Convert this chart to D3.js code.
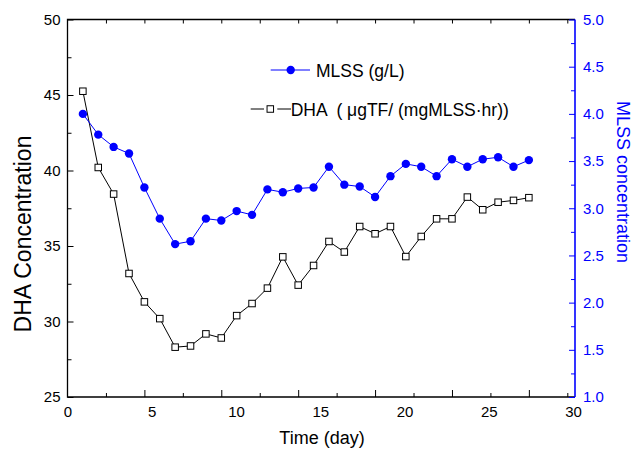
<!DOCTYPE html>
<html>
<head>
<meta charset="utf-8">
<script src="https://cdn.jsdelivr.net/npm/d3@7"></script>
<style>
  html, body { margin: 0; padding: 0; background: #fff; }
  svg { display: block; font-family: "Liberation Sans", Arial, sans-serif; }
  text { white-space: pre; }
</style>
</head>
<body>
<svg id="chart" width="634" height="450"></svg>
<script>
// ---- data ----
const days = [1,2,3,4,5,6,7,8,9,10,11,12,13,14,15,16,17,18,19,20,21,22,23,24,25,26,27,28,29,30];
const dhaValues = [45.25,40.2,38.44,33.18,31.3,30.19,28.3,28.38,29.18,28.91,30.39,31.19,32.21,34.28,32.41,33.71,35.3,34.6,36.29,35.81,36.29,34.3,35.63,36.8,36.8,38.24,37.4,37.9,38.02,38.2];
const mlssValues = [4.0,3.78,3.65,3.58,3.22,2.89,2.62,2.65,2.89,2.87,2.97,2.93,3.2,3.17,3.21,3.22,3.44,3.25,3.23,3.12,3.34,3.47,3.44,3.34,3.52,3.44,3.52,3.54,3.44,3.51];
const xTickLabels = [0,5,10,15,20,25,30];
const leftTicks = [25,30,35,40,45,50];
const leftMinor = [27.5,32.5,37.5,42.5,47.5];
const rightTicks = [1.0,1.5,2.0,2.5,3.0,3.5,4.0,4.5,5.0];
const rightMinor = [1.25,1.75,2.25,2.75,3.25,3.75,4.25,4.75];
const xMajorTicks = [5,10,15,20,25,30];
const xMinorTicks = [2.5,7.5,12.5,17.5,22.5,27.5,32.5];
const xTopTicks = [2.5,5,7.5,10,12.5,15,17.5,20,22.5,25,27.5,30,32.5];

const legendMLSS = "MLSS (g/L)";
const legendDHA = "DHA  ( \u03bcgTF/ (mgMLSS\u00b7hr))";

// ---- layout ----
const L = 67.5, R = 575, T = 19.5, B = 397;
const BLUE = "#0000ff";

const svg = d3.select("#chart");

const x = d3.scaleLinear().domain([0, 33]).range([L, R]);          // data / tick scale
const xLab = d3.scaleLinear().domain([0, 30]).range([L, 573]);     // label scale
const yL = d3.scaleLinear().domain([25, 50]).range([B, T]);
const yR = d3.scaleLinear().domain([1, 5]).range([B, T]);

function clean(g) { g.select(".domain").remove(); }

// bottom ticks (inward)
svg.append("g").attr("transform", `translate(0,${B})`)
  .call(d3.axisBottom(x).tickValues(xMajorTicks).tickSize(-7).tickFormat(""))
  .call(clean).selectAll("line").attr("stroke", "#000");
svg.append("g").attr("transform", `translate(0,${B})`)
  .call(d3.axisBottom(x).tickValues(xMinorTicks).tickSize(-4).tickFormat(""))
  .call(clean).selectAll("line").attr("stroke", "#000");
// bottom labels
const bl = svg.append("g").attr("transform", `translate(0,${B})`)
  .call(d3.axisBottom(xLab).tickValues(xTickLabels).tickSize(0).tickPadding(9.5).tickFormat(d3.format("d")))
  .call(clean);
bl.selectAll("text").attr("font-size", 15).attr("fill", "#000").attr("font-family", "Liberation Sans, Arial, sans-serif");

// top ticks
svg.append("g").attr("transform", `translate(0,${T})`)
  .call(d3.axisTop(x).tickValues(xTopTicks).tickSize(-4).tickFormat(""))
  .call(clean).selectAll("line").attr("stroke", "#000");

// left axis
const la = svg.append("g").attr("transform", `translate(${L},0)`)
  .call(d3.axisLeft(yL).tickValues(leftTicks).tickSize(-6).tickPadding(7).tickFormat(d3.format("d")))
  .call(clean);
la.selectAll("line").attr("stroke", "#000");
la.selectAll("text").attr("font-size", 15).attr("fill", "#000").attr("font-family", "Liberation Sans, Arial, sans-serif");
svg.append("g").attr("transform", `translate(${L},0)`)
  .call(d3.axisLeft(yL).tickValues(leftMinor).tickSize(-4).tickFormat(""))
  .call(clean).selectAll("line").attr("stroke", "#000");

// frame (black)
svg.append("path")
  .attr("d", `M${R},${T}H${L}V${B}H${R}`)
  .attr("fill", "none").attr("stroke", "#000").attr("stroke-width", 1.3);

// right axis (blue)
const ra = svg.append("g").attr("transform", `translate(${R},0)`)
  .call(d3.axisRight(yR).tickValues(rightTicks).tickSize(-6).tickPadding(8).tickFormat(d3.format(".1f")))
  .call(clean);
ra.selectAll("line").attr("stroke", BLUE);
ra.selectAll("text").attr("font-size", 15).attr("fill", BLUE).attr("font-family", "Liberation Sans, Arial, sans-serif");
svg.append("g").attr("transform", `translate(${R},0)`)
  .call(d3.axisRight(yR).tickValues(rightMinor).tickSize(-4).tickFormat(""))
  .call(clean).selectAll("line").attr("stroke", BLUE);
svg.append("line").attr("x1", R).attr("x2", R).attr("y1", T).attr("y2", B)
  .attr("stroke", BLUE).attr("stroke-width", 1.6);

// axis titles
svg.append("text").attr("x", 322).attr("y", 444).attr("text-anchor", "middle")
  .attr("font-size", 18).attr("fill", "#000").text("Time (day)");
svg.append("text").attr("transform", "translate(31,234) rotate(-90)").attr("text-anchor", "middle")
  .attr("font-size", 23).attr("fill", "#000").text("DHA Concentration");
svg.append("text").attr("transform", "translate(617,182) rotate(90)").attr("text-anchor", "middle")
  .attr("font-size", 18).attr("fill", BLUE).text("MLSS concentration");

// DHA series
const dha = days.map((d, i) => ({ d, v: dhaValues[i] }));
const mlss = days.map((d, i) => ({ d, v: mlssValues[i] }));

svg.append("path").datum(dha)
  .attr("d", d3.line().x(p => x(p.d)).y(p => yL(p.v)))
  .attr("fill", "none").attr("stroke", "#000").attr("stroke-width", 1);
const sq = 6.5;
svg.append("g").selectAll("rect").data(dha).join("rect")
  .attr("x", p => x(p.d) - sq / 2).attr("y", p => yL(p.v) - sq / 2)
  .attr("width", sq).attr("height", sq)
  .attr("fill", "#fff").attr("stroke", "#000").attr("stroke-width", 1);

// MLSS series
svg.append("path").datum(mlss)
  .attr("d", d3.line().x(p => x(p.d)).y(p => yR(p.v)))
  .attr("fill", "none").attr("stroke", BLUE).attr("stroke-width", 1);
svg.append("g").selectAll("circle").data(mlss).join("circle")
  .attr("cx", p => x(p.d)).attr("cy", p => yR(p.v)).attr("r", 4.2)
  .attr("fill", BLUE);

// legend
const lg = svg.append("g");
lg.append("line").attr("x1", 270.7).attr("x2", 310).attr("y1", 70).attr("y2", 70)
  .attr("stroke", BLUE).attr("stroke-width", 1);
lg.append("circle").attr("cx", 290.7).attr("cy", 70).attr("r", 4.2).attr("fill", BLUE);
lg.append("text").attr("x", 316).attr("y", 76.5).attr("font-size", 17.5).attr("fill", "#000").text(legendMLSS);

lg.append("line").attr("x1", 250.7).attr("x2", 264).attr("y1", 109).attr("y2", 109)
  .attr("stroke", "#000").attr("stroke-width", 1);
lg.append("rect").attr("x", 270.3 - sq / 2).attr("y", 109 - sq / 2).attr("width", sq).attr("height", sq)
  .attr("fill", "#fff").attr("stroke", "#000").attr("stroke-width", 1);
lg.append("line").attr("x1", 277.3).attr("x2", 291).attr("y1", 109).attr("y2", 109)
  .attr("stroke", "#000").attr("stroke-width", 1);
lg.append("text").attr("x", 290.7).attr("y", 115.5).attr("font-size", 17.5).attr("fill", "#000").text(legendDHA);
</script>
</body>
</html>
